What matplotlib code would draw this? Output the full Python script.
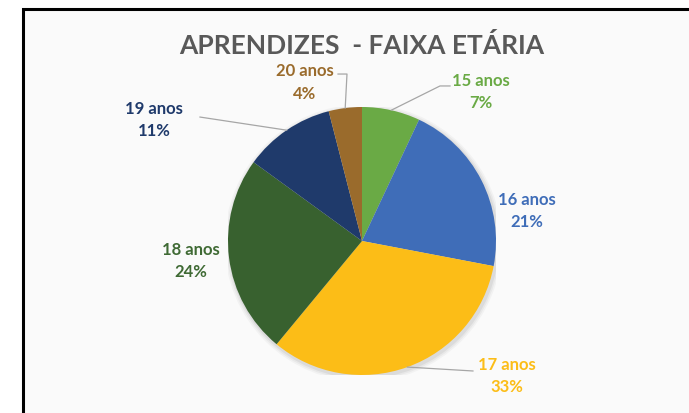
import numpy as np
import matplotlib
matplotlib.use("Agg")
import matplotlib.pyplot as plt
import matplotlib.patches as mpatches

plt.rcParams.update({"font.family": ["Lato", "DejaVu Sans"], "font.weight": "bold"})

categories = ["15 anos", "16 anos", "17 anos", "18 anos", "19 anos", "20 anos"]
shares = [7, 21, 33, 24, 11, 4]
colors = ["#6AAA45", "#3F6DB8", "#FCBD17", "#38612F", "#1F3A6B", "#9A6B2C"]
label_colors = ["#6AAA45", "#3F6DB8", "#FCBD17", "#3F6A34", "#1F3A6B", "#9A6B2C"]

# label centres in pie units (radius = 1)
label_pos = [(0.89, 1.12), (1.23, 0.23), (1.08, -1.00),
             (-1.28, -0.14), (-1.55, 0.91), (-0.43, 1.19)]
# leader line bend points, None = no leader
leaders = [[(0.582, 1.157), (0.657, 1.157)], None, [(0.828, -0.970)],
           None, [(-1.209, 0.925)], [(-0.112, 1.246), (-0.179, 1.246)]]

W, H = 689, 414
fig = plt.figure(figsize=(W / 100, H / 100), dpi=100)
fig.patch.set_facecolor("white")

# chart frame
frame = mpatches.Rectangle((22.5 / W, -0.05), 1.1, (H - 9.5) / H + 0.05,
                           transform=fig.transFigure, facecolor="#FAFAFA",
                           edgecolor="black", lw=2.2, zorder=-5)
fig.patches.append(frame)

cx, cy, r = 362, 242, 134
ax = fig.add_axes([(cx - r) / W, (H - cy - r) / H, 2 * r / W, 2 * r / H])
ax.set_zorder(2)

# soft shadow
for k, a in enumerate([0.05, 0.04, 0.03]):
    ax.add_patch(mpatches.Circle((0.01, -0.015), 1.0 + 0.012 * (k + 1),
                                 color="#000000", alpha=a, lw=0, zorder=0))

wedges, _ = ax.pie(shares, colors=colors, startangle=90, counterclock=False,
                   radius=1, wedgeprops={"linewidth": 0})
ax.set_xlim(-1, 1); ax.set_ylim(-1, 1)
ax.set_aspect("equal")
ax.axis("off")

for w, cat, s, pos, lc, ld in zip(wedges, categories, shares, label_pos, label_colors, leaders):
    mid = np.deg2rad((w.theta1 + w.theta2) / 2)
    if ld is not None:
        pts = [(np.cos(mid), np.sin(mid))] + ld
        xs, ys = zip(*pts)
        ax.plot(xs, ys, color="#A6A6A6", lw=0.9, clip_on=False, zorder=1)
    ax.text(pos[0], pos[1], f"{cat}\n{s}%", ha="center", va="center",
            color=lc, fontsize=12, fontweight="bold", linespacing=1.5,
            clip_on=False)

fig.text(362 / W, 1 - 45 / H, "APRENDIZES  - FAIXA ETÁRIA", ha="center", va="center",
         fontsize=19, fontweight="bold", color="#595959", zorder=3)

fig.savefig("out.png", dpi=100)
